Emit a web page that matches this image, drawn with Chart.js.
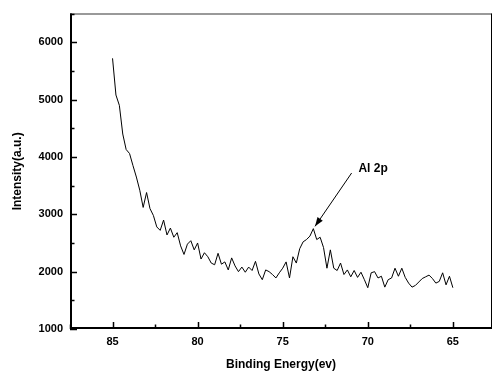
<!DOCTYPE html>
<html>
<head>
<meta charset="utf-8">
<script src="https://cdn.jsdelivr.net/npm/chart.js@4.4.1/dist/chart.umd.min.js"></script>
<style>
  html, body { margin: 0; padding: 0; background: #fff; }
  #wrap { width: 497px; height: 375px; position: relative; }
</style>
</head>
<body>
<div id="wrap"><canvas id="xps"></canvas></div>
<script>
// binding energy (eV) and intensity (a.u.)
const energies = [
  85.0, 84.8, 84.6, 84.4, 84.2, 84.0, 83.8, 83.6, 83.4, 83.2,
  83.0, 82.8, 82.6, 82.4, 82.2, 82.0, 81.8, 81.6, 81.4, 81.2,
  81.0, 80.8, 80.6, 80.4, 80.2, 80.0, 79.8, 79.6, 79.4, 79.2,
  79.0, 78.8, 78.6, 78.4, 78.2, 78.0, 77.8, 77.6, 77.4, 77.2,
  77.0, 76.8, 76.6, 76.4, 76.2, 76.0, 75.8, 75.6, 75.4, 75.2,
  75.0, 74.8, 74.6, 74.4, 74.2, 74.0, 73.8, 73.6, 73.4, 73.2,
  73.0, 72.8, 72.6, 72.4, 72.2, 72.0, 71.8, 71.6, 71.4, 71.2,
  71.0, 70.8, 70.6, 70.4, 70.2, 70.0, 69.8, 69.6, 69.4, 69.2,
  69.0, 68.8, 68.6, 68.4, 68.2, 68.0, 67.8, 67.6, 67.4, 67.2,
  67.0, 66.8, 66.6, 66.4, 66.2, 66.0, 65.8, 65.6, 65.4, 65.2,
  65.0
];
const intensity = [
  5720, 5080, 4900, 4400, 4130, 4060, 3850, 3650, 3420, 3120,
  3380, 3100, 2980, 2780, 2720, 2900, 2640, 2760, 2600, 2680,
  2450, 2300, 2480, 2540, 2380, 2500, 2220, 2330, 2260, 2150,
  2120, 2320, 2130, 2170, 2030, 2240, 2100, 2000, 2080, 1990,
  2080, 2020, 2180, 1960, 1860, 2030, 2000, 1950, 1890, 1980,
  2060, 2170, 1890, 2260, 2150, 2400, 2520, 2560, 2620, 2750,
  2560, 2600, 2420, 2060, 2380, 2060, 2020, 2150, 1950, 2030,
  1910, 2020, 1900, 1990, 1860, 1720, 1980, 2000, 1890, 1920,
  1730, 1860, 1890, 2060, 1920, 2060, 1900, 1800, 1730, 1760,
  1820, 1880, 1910, 1940, 1880, 1800, 1830, 1980, 1770, 1920,
  1720
];
const xTicks = [85, 80, 75, 70, 65];
const yTicks = [1000, 2000, 3000, 4000, 5000, 6000];

// annotation: label and arrow (data coords)
const peakLabel = 'Al 2p';
const arrowFrom = [70.95, 3720];
const arrowTo = [73.1, 2790];
const labelAt = [70.55, 3730];

const points = energies.map((e, i) => ({ x: e, y: intensity[i] }));
const fontFam = '"Liberation Sans", Arial, Helvetica, sans-serif';

// frame + inward ticks + annotation
const framePlugin = {
  id: 'frame',
  afterDraw(chart) {
    const c = chart.ctx;
    const a = chart.chartArea;
    const xs = chart.scales.x, ys = chart.scales.y;
    c.save();
    // top border (grey) and right border
    c.lineWidth = 1.5;
    c.strokeStyle = '#777';
    c.beginPath(); c.moveTo(a.left, a.top + 0.5); c.lineTo(a.right, a.top + 0.5); c.stroke();
    c.lineWidth = 1;
    c.strokeStyle = '#000';
    c.beginPath(); c.moveTo(a.right - 0.5, a.top); c.lineTo(a.right - 0.5, a.bottom); c.stroke();
    // left + bottom axis
    c.lineWidth = 2;
    c.beginPath();
    c.moveTo(a.left + 1, a.top);
    c.lineTo(a.left + 1, a.bottom - 1);
    c.lineTo(a.right, a.bottom - 1);
    c.stroke();

    // ticks pointing inside
    c.lineWidth = 1.5;
    c.beginPath();
    xTicks.forEach(v => {
      const px = Math.round(xs.getPixelForValue(v)) + 0.5;
      c.moveTo(px, a.bottom); c.lineTo(px, a.bottom - 7);
      if (v - 2.5 > xs.min) {
        const mx = Math.round(xs.getPixelForValue(v - 2.5)) + 0.5;
        c.moveTo(mx, a.bottom); c.lineTo(mx, a.bottom - 4.5);
      }
    });
    const ex = Math.round(xs.getPixelForValue(87.5)) + 0.5;
    c.moveTo(ex, a.bottom); c.lineTo(ex, a.bottom - 4.5);
    yTicks.forEach(v => {
      const py = Math.round(ys.getPixelForValue(v)) + 0.5;
      c.moveTo(a.left, py); c.lineTo(a.left + 7, py);
      const my = Math.round(ys.getPixelForValue(v + 500)) + 0.5;
      c.moveTo(a.left, my); c.lineTo(a.left + 4.5, my);
    });
    c.stroke();

    // annotation arrow
    const x1 = xs.getPixelForValue(arrowFrom[0]), y1 = ys.getPixelForValue(arrowFrom[1]);
    const x2 = xs.getPixelForValue(arrowTo[0]), y2 = ys.getPixelForValue(arrowTo[1]);
    c.lineWidth = 1;
    c.beginPath(); c.moveTo(x1, y1); c.lineTo(x2, y2); c.stroke();
    const ang = Math.atan2(y2 - y1, x2 - x1);
    const hl = 9, hw = 3.2;
    c.beginPath();
    c.moveTo(x2, y2);
    c.lineTo(x2 - hl * Math.cos(ang) + hw * Math.sin(ang), y2 - hl * Math.sin(ang) - hw * Math.cos(ang));
    c.lineTo(x2 - hl * Math.cos(ang) - hw * Math.sin(ang), y2 - hl * Math.sin(ang) + hw * Math.cos(ang));
    c.closePath();
    c.fillStyle = '#000';
    c.fill();

    c.font = 'bold 12px ' + fontFam;
    c.textAlign = 'left';
    c.textBaseline = 'alphabetic';
    c.fillText(peakLabel, xs.getPixelForValue(labelAt[0]), ys.getPixelForValue(labelAt[1]));
    c.restore();
  }
};

new Chart(document.getElementById('xps'), {
  type: 'line',
  data: {
    datasets: [{
      data: points,
      borderColor: '#000',
      borderWidth: 1,
      pointRadius: 0,
      tension: 0,
      fill: false
    }]
  },
  options: {
    responsive: true,
    maintainAspectRatio: false,
    animation: false,
    layout: { padding: { top: 13, right: 5, left: 0, bottom: 0 } },
    plugins: { legend: { display: false }, tooltip: { enabled: false } },
    scales: {
      x: {
        type: 'linear',
        reverse: true,
        min: 62.7,
        max: 87.5,
        afterFit: s => { s.height = 46; },
        afterBuildTicks: s => { s.ticks = xTicks.map(v => ({ value: v })); },
        border: { display: false },
        grid: { display: false, drawTicks: false },
        ticks: {
          maxRotation: 0,
          autoSkip: false,
          padding: 6,
          color: '#000',
          callback: v => String(v),
          font: { family: fontFam, size: 11, weight: 'bold' }
        },
        title: {
          display: true,
          text: 'Binding Energy(ev)',
          color: '#000',
          padding: { top: 0, bottom: 3 },
          font: { family: fontFam, size: 12, weight: 'bold' }
        }
      },
      y: {
        min: 1000,
        max: 6500,
        afterFit: s => { s.width = 70; },
        afterBuildTicks: s => { s.ticks = yTicks.map(v => ({ value: v })); },
        border: { display: false },
        grid: { display: false, drawTicks: false },
        ticks: {
          autoSkip: false,
          padding: 7,
          color: '#000',
          callback: v => String(v),
          font: { family: fontFam, size: 11, weight: 'bold' }
        },
        title: {
          display: true,
          text: 'Intensity(a.u.)',
          color: '#000',
          padding: { top: 10, bottom: 4 },
          font: { family: fontFam, size: 12, weight: 'bold' }
        }
      }
    }
  },
  plugins: [framePlugin]
});
</script>
</body>
</html>
